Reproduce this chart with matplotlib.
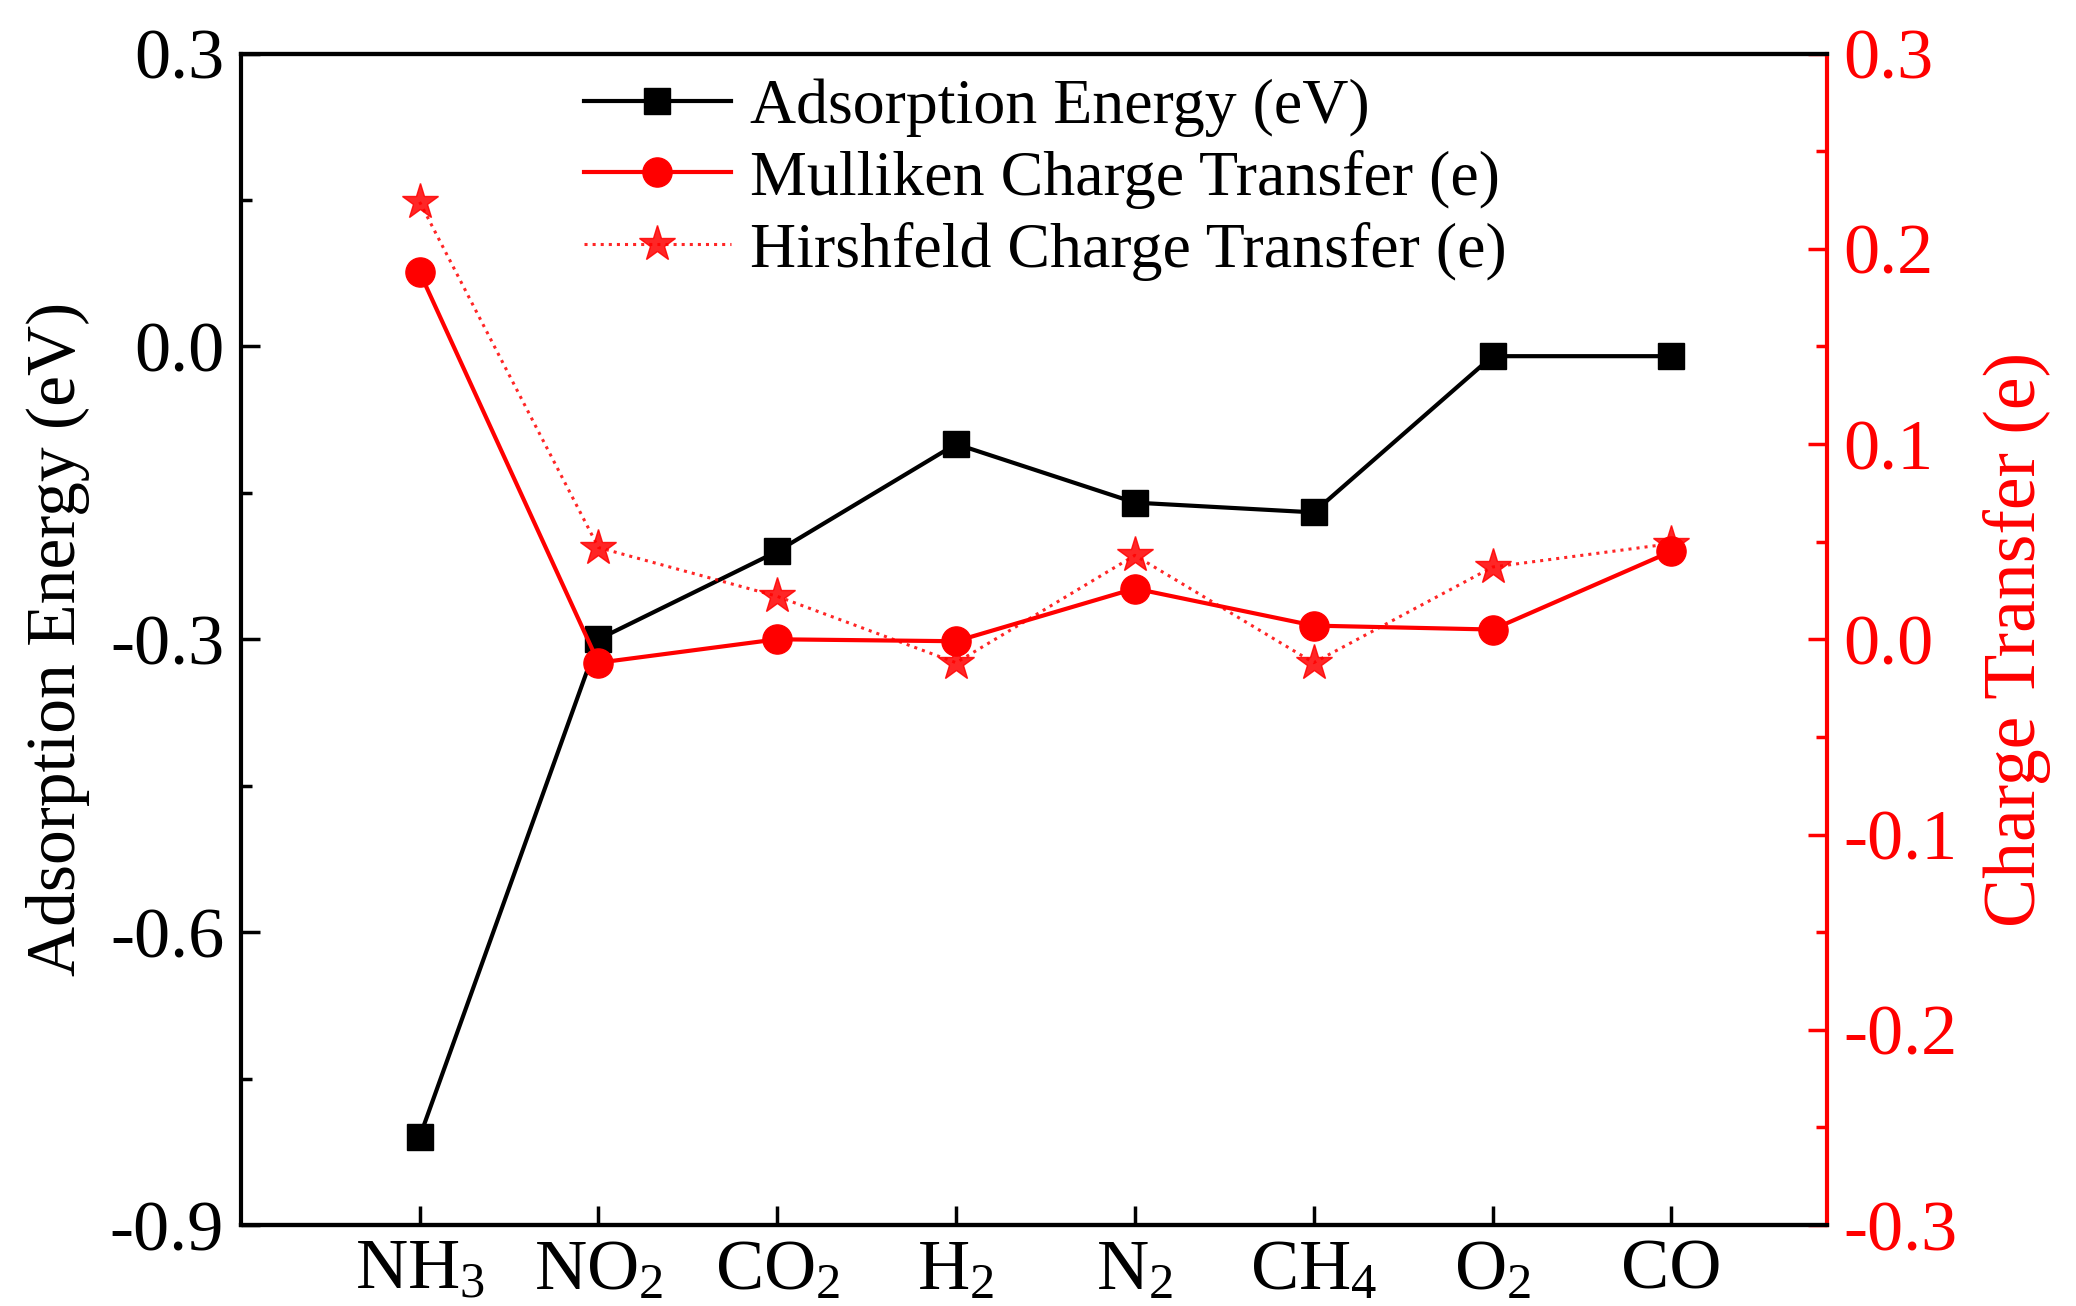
import numpy as np
import matplotlib.pyplot as plt
from matplotlib.ticker import MultipleLocator

plt.rcParams['font.family'] = ['Liberation Serif', 'DejaVu Serif']
plt.rcParams['mathtext.fontset'] = 'custom'
plt.rcParams['mathtext.rm'] = 'Liberation Serif'
plt.rcParams['mathtext.it'] = 'Liberation Serif:italic'

# data
gases = ['NH$_3$', 'NO$_2$', 'CO$_2$', 'H$_2$', 'N$_2$', 'CH$_4$', 'O$_2$', 'CO']
energy = [-0.81, -0.30, -0.21, -0.10, -0.16, -0.17, -0.01, -0.01]
mulliken = [0.188, -0.012, 0.000, -0.001, 0.026, 0.007, 0.005, 0.045]
hirshfeld = [0.224, 0.047, 0.022, -0.012, 0.043, -0.012, 0.037, 0.049]

x = np.arange(len(gases))
red = '#ff0000'

fig = plt.figure(figsize=(20.76, 13.06), dpi=100)
ax = fig.add_axes([0.116, 0.062, 0.764, 0.897])
ax2 = ax.twinx()

l1, = ax.plot(x, energy, color='black', lw=3, marker='s', ms=19, label='Adsorption Energy (eV)')
l2, = ax2.plot(x, mulliken, color=red, lw=3, marker='o', ms=21, label='Mulliken Charge Transfer (e)')
l3, = ax2.plot(x, hirshfeld, color=red, lw=2.2, ls=':', alpha=0.85, marker='*', ms=27,
               markerfacecolor=red, markeredgecolor=red, label='Hirshfeld Charge Transfer (e)')

ax.set_xlim(-1, 7.87)
ax.set_ylim(-0.9, 0.3)
ax2.set_ylim(-0.3, 0.3)
ax.set_xticks(x)
ax.set_xticklabels(gases)
ax.yaxis.set_major_locator(MultipleLocator(0.3))
ax.yaxis.set_minor_locator(MultipleLocator(0.15))
ax2.yaxis.set_major_locator(MultipleLocator(0.1))
ax2.yaxis.set_minor_locator(MultipleLocator(0.05))
ax.yaxis.set_major_formatter(plt.FuncFormatter(lambda v, p: '%.1f' % v))
ax2.yaxis.set_major_formatter(plt.FuncFormatter(lambda v, p: '%.1f' % v))

ax.tick_params(axis='both', which='major', direction='in', length=14, width=2.5, labelsize=52, pad=12)
ax.tick_params(axis='y', which='minor', direction='in', length=8, width=2.5)
ax.tick_params(axis='x', which='major', pad=10)
ax2.tick_params(axis='y', which='major', direction='in', length=14, width=2.5, labelsize=52,
                colors=red, pad=12)
ax2.tick_params(axis='y', which='minor', direction='in', length=8, width=2.5, colors=red)

for s in ['left', 'bottom', 'top']:
    ax.spines[s].set_linewidth(3)
ax2.spines['right'].set_color(red)
ax2.spines['right'].set_linewidth(3)
ax2.spines['left'].set_visible(False)
ax2.spines['top'].set_linewidth(3)
ax2.spines['bottom'].set_linewidth(3)
ax.spines['right'].set_visible(False)

ax.set_ylabel('Adsorption Energy (eV)', fontsize=50, labelpad=14)
ax2.set_ylabel('Charge Transfer (e)', fontsize=53, color=red, labelpad=18)

ax2.legend(handles=[l1, l2, l3], loc='upper left', bbox_to_anchor=(0.18, 1.028), frameon=False,
           fontsize=46, handlelength=2.3, labelspacing=0.2, handletextpad=0.3)

fig.savefig('out.png', dpi=100)
